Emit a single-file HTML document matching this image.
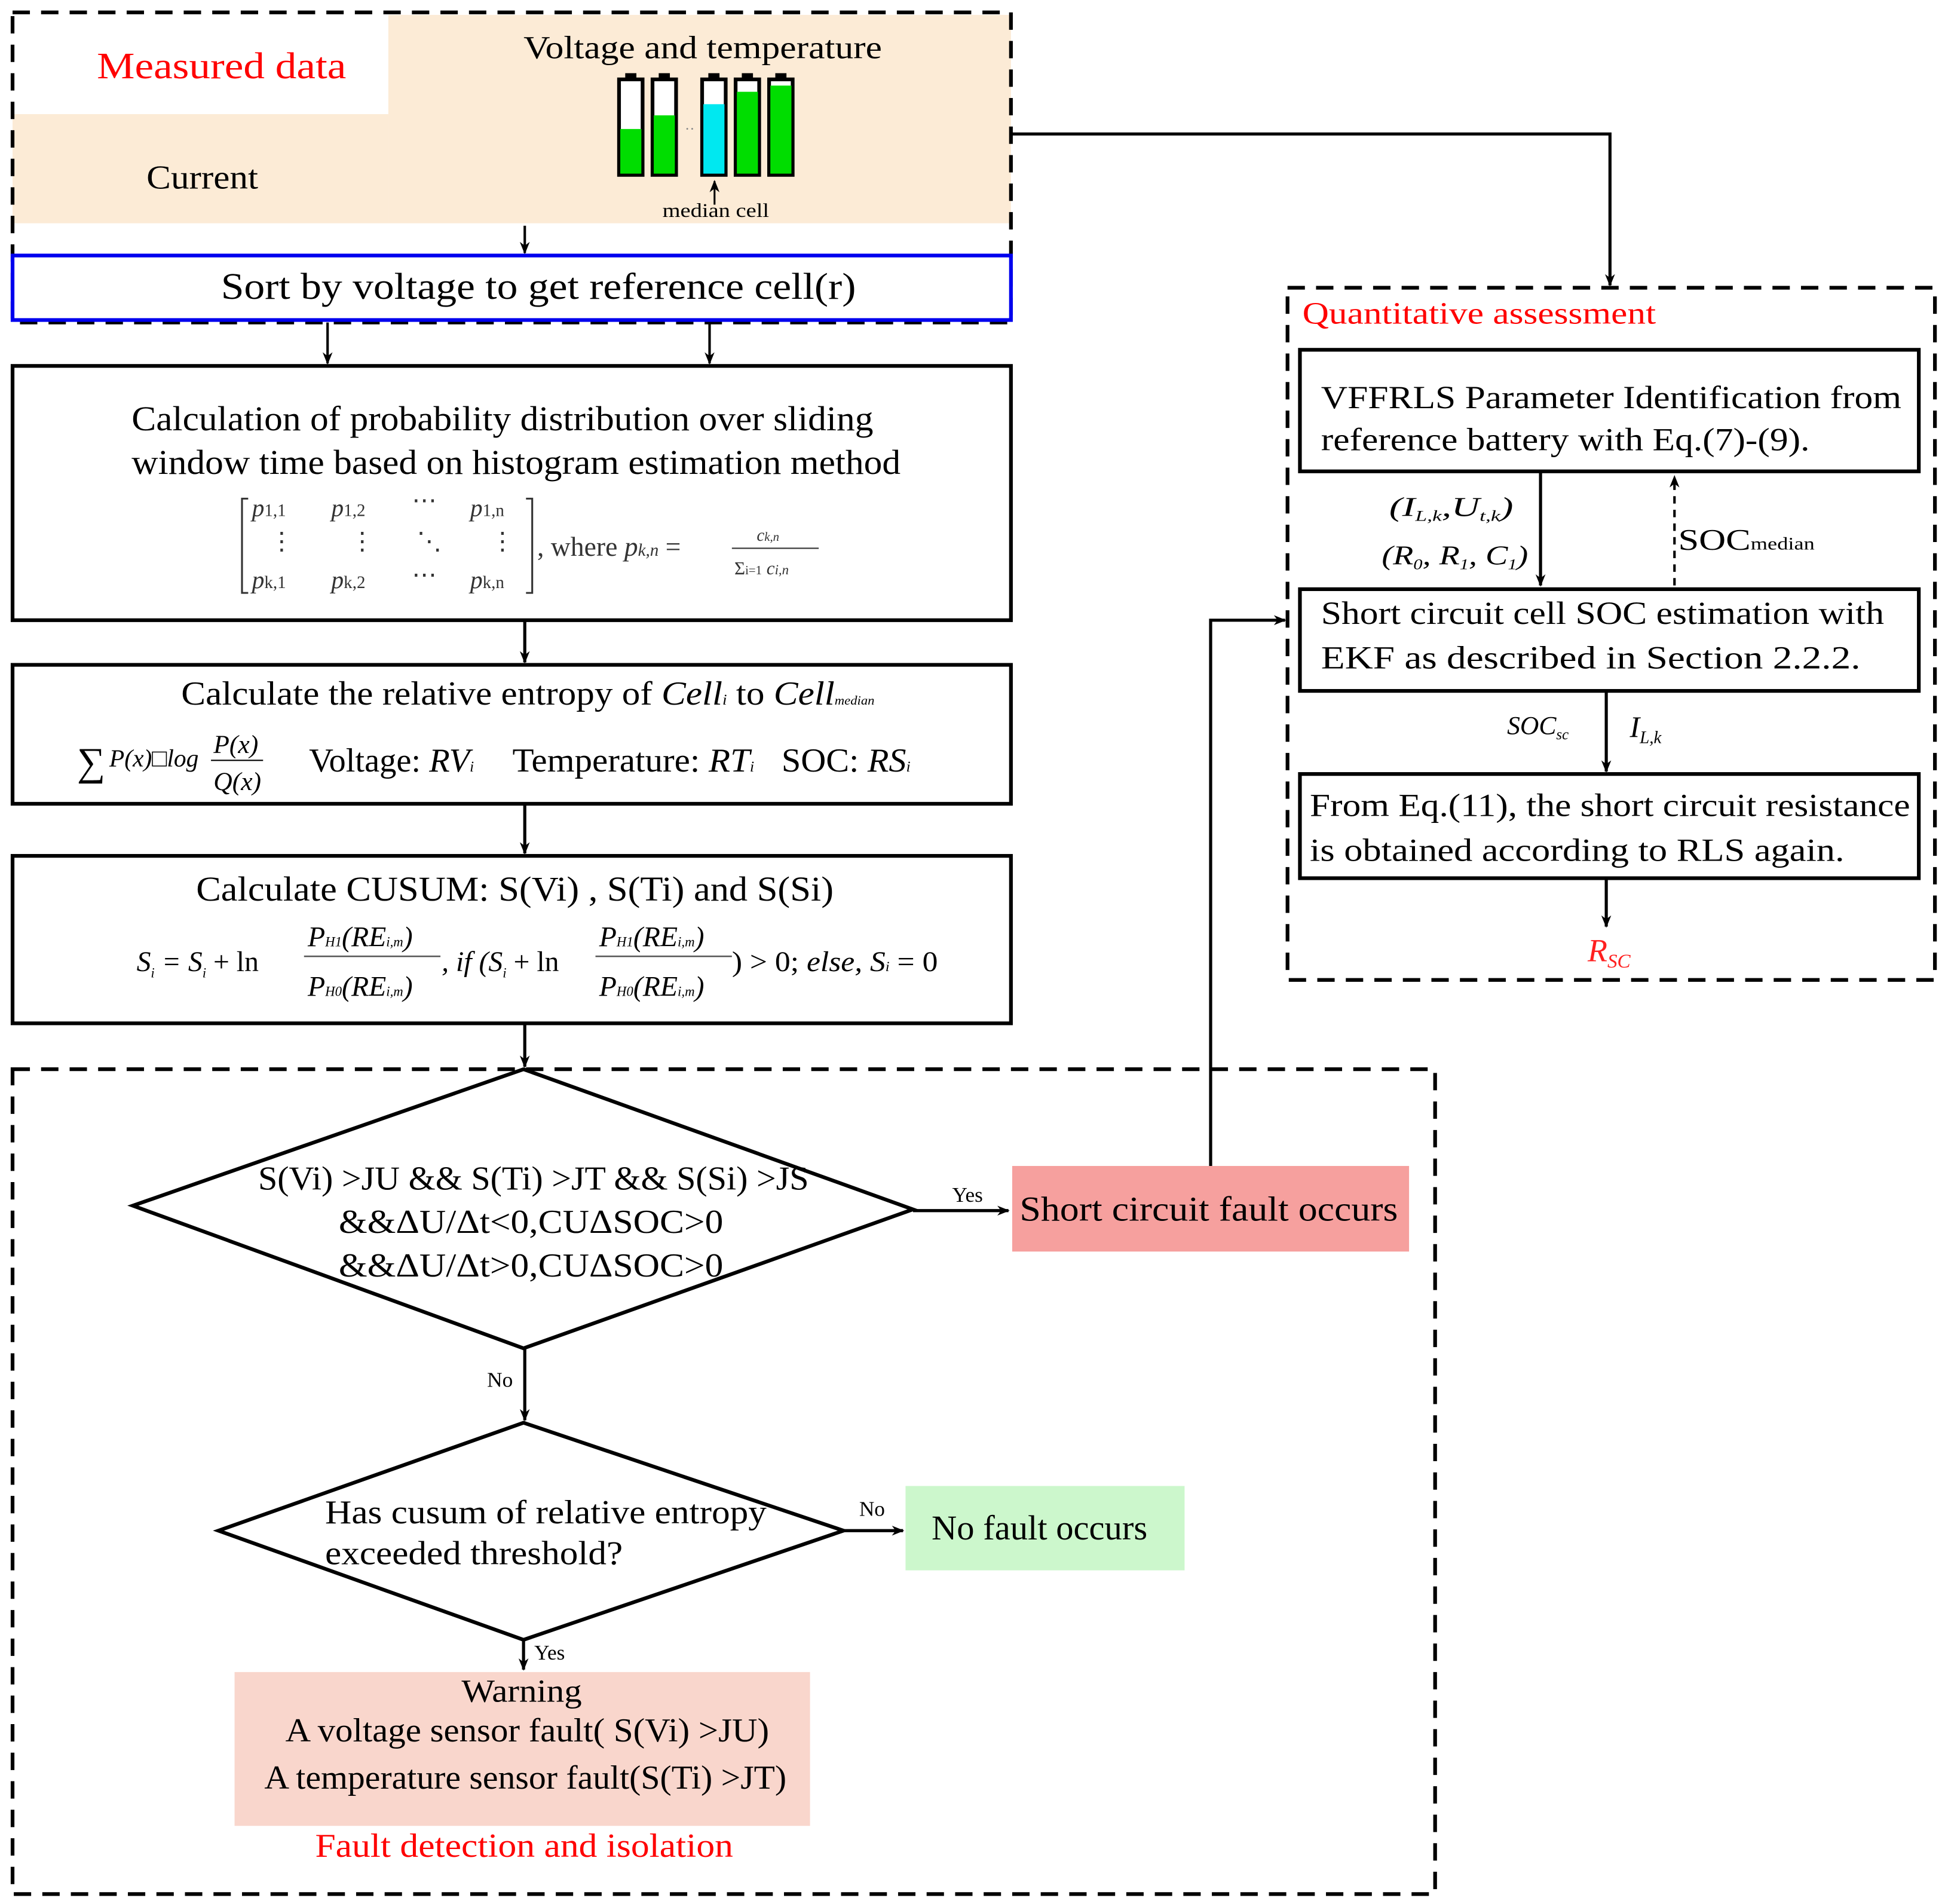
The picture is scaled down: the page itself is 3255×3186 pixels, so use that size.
<!DOCTYPE html>
<html><head><meta charset="utf-8"><style>html,body{margin:0;padding:0;background:#fff}svg{display:block}svg text{font-family:"Liberation Serif",serif}</style></head>
<body>
<svg width="3255" height="3186" viewBox="0 0 1568 1535" xmlns="http://www.w3.org/2000/svg" style="font-family:'Liberation Serif',serif">
<defs><marker id="a" markerWidth="10" markerHeight="10" refX="9" refY="5" orient="auto" markerUnits="userSpaceOnUse"><path d="M0,1 L10,5 L0,9 L3,5Z" fill="#000"/></marker></defs>
<rect width="1568" height="1535" fill="#fff"/>
<!-- top area -->
<rect x="10" y="92" width="303" height="88" fill="#fcebd6"/>
<rect x="313" y="12" width="502" height="168" fill="#fcebd6"/>
<rect x="10" y="10" width="805" height="250" fill="none" stroke="#000" stroke-width="3" stroke-dasharray="14,9"/>
<text x="78" y="63" font-size="30" fill="#ff0000" textLength="201" lengthAdjust="spacingAndGlyphs">Measured data</text>
<text x="118" y="152" font-size="27" textLength="90" lengthAdjust="spacingAndGlyphs">Current</text>
<text x="422" y="47" font-size="26" textLength="289" lengthAdjust="spacingAndGlyphs">Voltage and temperature</text>
<g stroke="#000" stroke-width="3">
<rect x="499" y="64" width="19" height="77" fill="#fff"/><rect x="526" y="64" width="19" height="77" fill="#fff"/>
<rect x="566" y="64" width="19" height="77" fill="#fff"/><rect x="593" y="64" width="19" height="77" fill="#fff"/><rect x="620" y="64" width="19" height="77" fill="#fff"/>
</g>
<rect x="500" y="104" width="17" height="36" fill="#00dd00"/>
<rect x="527" y="93" width="17" height="47" fill="#00dd00"/>
<rect x="567" y="84" width="17" height="56" fill="#00e8f0"/>
<rect x="594" y="74" width="17" height="66" fill="#00dd00"/>
<rect x="621" y="69" width="17" height="71" fill="#00dd00"/>
<g fill="#000"><rect x="504" y="59" width="9" height="5"/><rect x="531" y="59" width="9" height="5"/><rect x="571" y="59" width="9" height="5"/><rect x="598" y="59" width="9" height="5"/><rect x="625" y="59" width="9" height="5"/></g>
<text x="552" y="108" font-size="12" fill="#888">··</text>
<line x1="576" y1="165" x2="576" y2="146" stroke="#000" stroke-width="1.5" marker-end="url(#a)"/>
<text x="534" y="175" font-size="16" textLength="86" lengthAdjust="spacingAndGlyphs">median cell</text>
<line x1="423" y1="182" x2="423" y2="204" stroke="#000" stroke-width="2" marker-end="url(#a)"/>
<rect x="10" y="206" width="805" height="52" fill="#fff" stroke="#0000ee" stroke-width="3"/>
<text x="178" y="241" font-size="30" textLength="512" lengthAdjust="spacingAndGlyphs">Sort by voltage to get reference cell(r)</text>
<line x1="264" y1="260" x2="264" y2="293" stroke="#000" stroke-width="2" marker-end="url(#a)"/>
<line x1="572" y1="260" x2="572" y2="293" stroke="#000" stroke-width="2" marker-end="url(#a)"/>
<!-- box1 -->
<rect x="10" y="295" width="805" height="205" fill="#fff" stroke="#000" stroke-width="3"/>
<text x="106" y="347" font-size="28" textLength="598" lengthAdjust="spacingAndGlyphs">Calculation of probability distribution over sliding</text>
<text x="106" y="382" font-size="28" textLength="620" lengthAdjust="spacingAndGlyphs">window time based on histogram estimation method</text>
<g font-size="20" font-style="italic" fill="#333">
<path d="M200,402 h-5 v76 h5 M424,402 h5 v76 h-5" stroke="#333" stroke-width="1.5" fill="none"/>
<text x="203" y="416">p<tspan font-size="14" font-style="normal">1,1</tspan></text>
<text x="267" y="416">p<tspan font-size="14" font-style="normal">1,2</tspan></text>
<text x="332" y="410" font-style="normal">⋯</text>
<text x="379" y="416">p<tspan font-size="14" font-style="normal">1,n</tspan></text>
<text x="217" y="443" font-style="normal">⋮</text><text x="282" y="443" font-style="normal">⋮</text><text x="336" y="443" font-style="normal">⋱</text><text x="395" y="443" font-style="normal">⋮</text>
<text x="203" y="474">p<tspan font-size="14" font-style="normal">k,1</tspan></text>
<text x="267" y="474">p<tspan font-size="14" font-style="normal">k,2</tspan></text>
<text x="332" y="470" font-style="normal">⋯</text>
<text x="379" y="474">p<tspan font-size="14" font-style="normal">k,n</tspan></text>
<text x="433" y="448" font-size="22" font-style="normal">, where <tspan font-style="italic">p</tspan><tspan font-size="14" font-style="italic">k,n</tspan> =</text>
<text x="610" y="436" font-size="14">c<tspan font-size="10">k,n</tspan></text>
<line x1="590" y1="442" x2="660" y2="442" stroke="#333" stroke-width="1"/>
<text x="592" y="463" font-size="15" font-style="normal">Σ<tspan font-size="10">i=1</tspan><tspan font-size="15" font-style="italic"> c</tspan><tspan font-size="11" font-style="italic">i,n</tspan></text>
</g>
<line x1="423" y1="500" x2="423" y2="534" stroke="#000" stroke-width="2.5" marker-end="url(#a)"/>
<!-- box2 -->
<rect x="10" y="536" width="805" height="112" fill="#fff" stroke="#000" stroke-width="3"/>
<text x="146" y="568" font-size="27" textLength="559" lengthAdjust="spacingAndGlyphs">Calculate the relative entropy of <tspan font-style="italic">Cell</tspan><tspan font-size="12" font-style="italic">i</tspan> to <tspan font-style="italic">Cell</tspan><tspan font-size="10" font-style="italic">median</tspan></text>
<text x="62" y="625" font-size="32">∑</text>
<text x="88" y="618" font-size="20" font-style="italic">P(x)□log</text>
<text x="172" y="607" font-size="21" font-style="italic">P(x)</text>
<line x1="170" y1="613" x2="212" y2="613" stroke="#000" stroke-width="1"/>
<text x="172" y="637" font-size="21" font-style="italic">Q(x)</text>
<text x="249" y="622" font-size="27" textLength="133" lengthAdjust="spacingAndGlyphs">Voltage: <tspan font-style="italic">RV</tspan><tspan font-size="12" font-style="italic">i</tspan></text>
<text x="413" y="622" font-size="27" textLength="195" lengthAdjust="spacingAndGlyphs">Temperature: <tspan font-style="italic">RT</tspan><tspan font-size="12" font-style="italic">i</tspan></text>
<text x="630" y="622" font-size="27" textLength="104" lengthAdjust="spacingAndGlyphs">SOC: <tspan font-style="italic">RS</tspan><tspan font-size="12" font-style="italic">i</tspan></text>
<line x1="423" y1="648" x2="423" y2="688" stroke="#000" stroke-width="2.5" marker-end="url(#a)"/>
<!-- box3 -->
<rect x="10" y="690" width="805" height="135" fill="#fff" stroke="#000" stroke-width="3"/>
<text x="158" y="726" font-size="28" textLength="514" lengthAdjust="spacingAndGlyphs">Calculate CUSUM: S(Vi) , S(Ti)  and  S(Si)</text>
<g font-size="23" font-style="italic">
<text x="110" y="783">S<tspan font-size="11" dy="5">i</tspan><tspan dy="-5"> = S</tspan><tspan font-size="11" dy="5">i</tspan><tspan dy="-5" font-style="normal"> + ln</tspan></text>
<text x="248" y="763">P<tspan font-size="11">H1</tspan>(RE<tspan font-size="11">i,m</tspan>)</text>
<line x1="245" y1="771" x2="355" y2="771" stroke="#555" stroke-width="1.2"/>
<text x="248" y="803">P<tspan font-size="11">H0</tspan>(RE<tspan font-size="11">i,m</tspan>)</text>
<text x="356" y="783">, if (S<tspan font-size="11" dy="5">i</tspan><tspan dy="-5" font-style="normal"> + ln</tspan></text>
<text x="483" y="763">P<tspan font-size="11">H1</tspan>(RE<tspan font-size="11">i,m</tspan>)</text>
<line x1="480" y1="771" x2="590" y2="771" stroke="#555" stroke-width="1.2"/>
<text x="483" y="803">P<tspan font-size="11">H0</tspan>(RE<tspan font-size="11">i,m</tspan>)</text>
<text x="590" y="783" textLength="166" lengthAdjust="spacingAndGlyphs"><tspan font-style="normal">) &gt; 0;</tspan> else, S<tspan font-size="11">i</tspan><tspan font-style="normal"> = 0</tspan></text>
</g>
<line x1="423" y1="825" x2="423" y2="860" stroke="#000" stroke-width="2.5" marker-end="url(#a)"/>
<!-- bottom dashed -->
<rect x="10" y="862" width="1147" height="665" fill="none" stroke="#000" stroke-width="3" stroke-dasharray="14,9"/>
<polygon points="107,972 422,862 736,975 422,1087" fill="#fff" stroke="#000" stroke-width="3"/>
<text x="208" y="959" font-size="27" textLength="444" lengthAdjust="spacingAndGlyphs">S(Vi) &gt;JU &amp;&amp; S(Ti) &gt;JT &amp;&amp; S(Si) &gt;JS</text>
<text x="273" y="994" font-size="27" textLength="310" lengthAdjust="spacingAndGlyphs">&amp;&amp;ΔU/Δt&lt;0,CUΔSOC&gt;0</text>
<text x="273" y="1029" font-size="27" textLength="310" lengthAdjust="spacingAndGlyphs">&amp;&amp;ΔU/Δt&gt;0,CUΔSOC&gt;0</text>
<line x1="736" y1="976" x2="813" y2="976" stroke="#000" stroke-width="2.5" marker-end="url(#a)"/>
<text x="780" y="969" font-size="17" text-anchor="middle">Yes</text>
<rect x="816" y="940" width="320" height="69" fill="#f6a09e"/>
<text x="822" y="984" font-size="28" textLength="305" lengthAdjust="spacingAndGlyphs">Short circuit fault occurs</text>
<polyline points="976,940 976,500 1036,500" fill="none" stroke="#000" stroke-width="2.5" marker-end="url(#a)"/>
<line x1="423" y1="1087" x2="423" y2="1145" stroke="#000" stroke-width="2.5" marker-end="url(#a)"/>
<text x="403" y="1118" font-size="17" text-anchor="middle">No</text>
<polygon points="176,1234 422,1147 680,1234 422,1322" fill="#fff" stroke="#000" stroke-width="3"/>
<text x="262" y="1228" font-size="27" textLength="356" lengthAdjust="spacingAndGlyphs">Has cusum of relative entropy</text>
<text x="262" y="1261" font-size="27" textLength="240" lengthAdjust="spacingAndGlyphs">exceeded threshold?</text>
<line x1="680" y1="1234" x2="728" y2="1234" stroke="#000" stroke-width="2.5" marker-end="url(#a)"/>
<text x="703" y="1222" font-size="17" text-anchor="middle">No</text>
<rect x="730" y="1198" width="225" height="68" fill="#ccf7cc"/>
<text x="751" y="1241" font-size="28" textLength="174" lengthAdjust="spacingAndGlyphs">No fault occurs</text>
<line x1="422" y1="1322" x2="422" y2="1346" stroke="#000" stroke-width="2.5" marker-end="url(#a)"/>
<text x="443" y="1338" font-size="17" text-anchor="middle">Yes</text>
<rect x="189" y="1348" width="464" height="124" fill="#f9d6cc"/>
<text x="372" y="1372" font-size="26" textLength="97" lengthAdjust="spacingAndGlyphs">Warning</text>
<text x="230" y="1404" font-size="27" textLength="390" lengthAdjust="spacingAndGlyphs">A voltage sensor fault( S(Vi) &gt;JU)</text>
<text x="213" y="1442" font-size="27" textLength="421" lengthAdjust="spacingAndGlyphs">A temperature sensor fault(S(Ti) &gt;JT)</text>
<text x="254" y="1497" font-size="27" fill="#ff0000" textLength="337" lengthAdjust="spacingAndGlyphs">Fault detection and isolation</text>
<!-- right -->
<polyline points="815,108 1298,108 1298,230" fill="none" stroke="#000" stroke-width="2.5" marker-end="url(#a)"/>
<rect x="1038" y="232" width="522" height="558" fill="none" stroke="#000" stroke-width="3" stroke-dasharray="14,9"/>
<text x="1050" y="261" font-size="25" fill="#ff0000" textLength="285" lengthAdjust="spacingAndGlyphs">Quantitative assessment</text>
<rect x="1048" y="282" width="499" height="98" fill="#fff" stroke="#000" stroke-width="3"/>
<text x="1065" y="329" font-size="26" textLength="468" lengthAdjust="spacingAndGlyphs">VFFRLS Parameter Identification from</text>
<text x="1065" y="363" font-size="26" textLength="394" lengthAdjust="spacingAndGlyphs">reference battery with Eq.(7)-(9).</text>
<line x1="1242" y1="380" x2="1242" y2="472" stroke="#000" stroke-width="2.5" marker-end="url(#a)"/>
<text x="1120" y="416" font-size="22" font-style="italic" textLength="100" lengthAdjust="spacingAndGlyphs">(I<tspan font-size="12" dy="4">L,k</tspan><tspan dy="-4">,U</tspan><tspan font-size="12" dy="4">t,k</tspan><tspan dy="-4">)</tspan></text>
<text x="1114" y="455" font-size="22" font-style="italic" textLength="118" lengthAdjust="spacingAndGlyphs">(R<tspan font-size="12" dy="4">0</tspan><tspan dy="-4">, R</tspan><tspan font-size="12" dy="4">1</tspan><tspan dy="-4">, C</tspan><tspan font-size="12" dy="4">1</tspan><tspan dy="-4">)</tspan></text>
<line x1="1350" y1="472" x2="1350" y2="384" stroke="#000" stroke-width="2" stroke-dasharray="6,5" marker-end="url(#a)"/>
<text x="1353" y="443" font-size="24" textLength="110" lengthAdjust="spacingAndGlyphs">SOC<tspan font-size="14">median</tspan></text>
<rect x="1048" y="475" width="499" height="82" fill="#fff" stroke="#000" stroke-width="3"/>
<text x="1065" y="503" font-size="26" textLength="454" lengthAdjust="spacingAndGlyphs">Short circuit cell SOC estimation with</text>
<text x="1065" y="539" font-size="26" textLength="435" lengthAdjust="spacingAndGlyphs">EKF as described in Section 2.2.2.</text>
<line x1="1295" y1="557" x2="1295" y2="622" stroke="#000" stroke-width="2.5" marker-end="url(#a)"/>
<text x="1215" y="592" font-size="21" font-style="italic">SOC<tspan font-size="12" dy="4">sc</tspan></text>
<text x="1314" y="594" font-size="24" font-style="italic">I<tspan font-size="14" dy="5">L,k</tspan></text>
<rect x="1048" y="624" width="499" height="84" fill="#fff" stroke="#000" stroke-width="3"/>
<text x="1056" y="658" font-size="26" textLength="484" lengthAdjust="spacingAndGlyphs">From Eq.(11), the short circuit resistance</text>
<text x="1056" y="694" font-size="26" textLength="431" lengthAdjust="spacingAndGlyphs">is obtained  according to RLS again.</text>
<line x1="1295" y1="708" x2="1295" y2="747" stroke="#000" stroke-width="2.5" marker-end="url(#a)"/>
<text x="1280" y="775" font-size="26" font-style="italic" fill="#ff2020">R<tspan font-size="16" dy="5">SC</tspan></text>
</svg>
</body></html>
